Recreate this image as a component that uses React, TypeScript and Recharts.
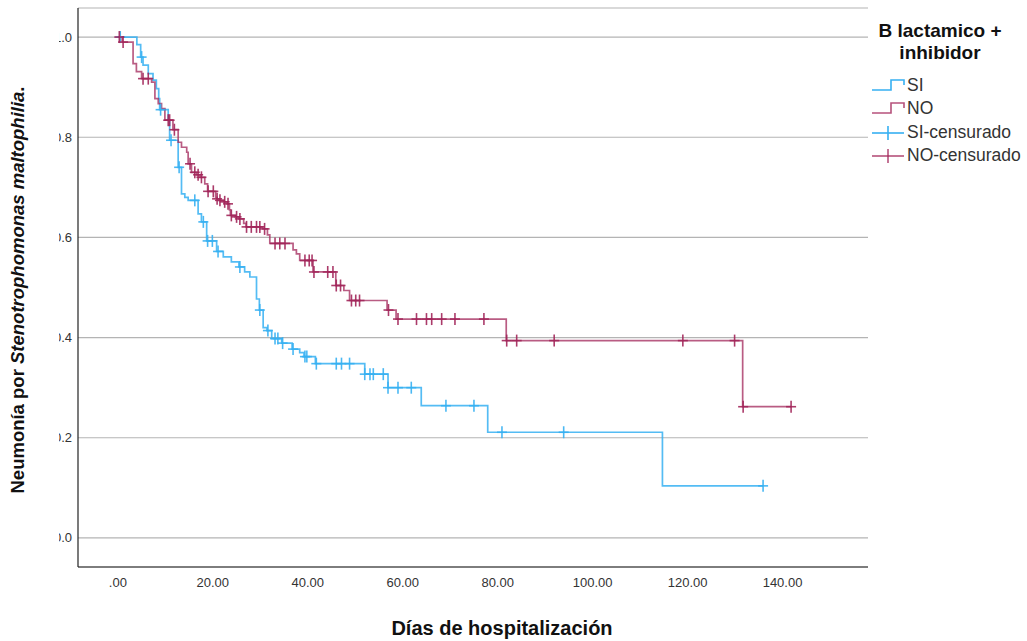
import React from 'react'
import {
  ComposedChart,
  Line,
  Scatter,
  XAxis,
  YAxis,
  CartesianGrid,
  Label,
} from 'recharts'

const ANCHO = 1027
const ALTO = 641

// Curva SI: tiempos de evento y supervivencia desde ese tiempo
const siTiempos = [
  0, 4.0, 4.8, 5.3, 6.4, 7.4, 8.1, 8.6, 8.8, 10.6, 10.9, 12.7, 13.4, 14.1, 14.8,
  16.9, 17.6, 18.7, 20.8, 22.2, 23.9, 25.5, 26.7, 27.8, 29.2, 29.8, 30.6, 31.4,
  32.4, 34.5, 36.7, 38.3, 39.2, 41.6, 52.0, 56.9, 63.9, 77.9, 114.7, 135.9,
]
const siSupervivencia = [
  1.0, 0.985, 0.96, 0.944, 0.927, 0.914, 0.897, 0.877, 0.855, 0.834, 0.794, 0.74,
  0.687, 0.68, 0.674, 0.647, 0.631, 0.593, 0.572, 0.561, 0.551, 0.541, 0.531,
  0.521, 0.477, 0.455, 0.42, 0.414, 0.398, 0.389, 0.377, 0.37, 0.362, 0.348,
  0.327, 0.3, 0.264, 0.211, 0.104, 0.104,
]
const siCensuraTiempos = [
  0.5, 5.0, 9.0, 11.2, 12.9, 16.2, 18.0, 18.9, 19.9, 21.1, 25.7, 29.9, 31.6, 33.1,
  33.7, 34.7, 36.9, 39.4, 39.8, 41.8, 46.0, 47.1, 48.8, 52.0, 53.1, 53.8, 55.9,
  56.9, 59.0, 61.8, 69.1, 75.0, 80.9, 93.9, 135.9,
]
const siCensuraSupervivencia = [
  1.0, 0.96, 0.855, 0.794, 0.74, 0.674, 0.631, 0.593, 0.593, 0.572, 0.541, 0.455,
  0.414, 0.398, 0.398, 0.389, 0.377, 0.362, 0.362, 0.348, 0.348, 0.348, 0.348,
  0.327, 0.327, 0.327, 0.327, 0.3, 0.3, 0.3, 0.264, 0.264, 0.211, 0.211, 0.104,
]

// Curva NO
const noTiempos = [
  0, 0.9, 3.2, 3.9, 5.0, 7.1, 7.8, 8.5, 9.2, 9.9, 11.6, 12.7, 13.4, 14.5, 14.8,
  15.5, 16.6, 17.3, 18.3, 18.9, 20.6, 20.9, 21.3, 22.3, 23.0, 23.5, 23.7, 24.7,
  25.5, 26.5, 27.0, 30.5, 31.5, 32.0, 36.9, 37.6, 38.3, 41.1, 45.9, 47.6, 48.8,
  56.7, 58.6, 81.8, 131.6, 141.8,
]
const noSupervivencia = [
  1.0, 0.99, 0.947, 0.931, 0.917, 0.91, 0.877, 0.867, 0.857, 0.834, 0.815, 0.79,
  0.78, 0.77, 0.747, 0.73, 0.725, 0.72, 0.707, 0.692, 0.68, 0.677, 0.674, 0.671,
  0.667, 0.655, 0.644, 0.641, 0.637, 0.628, 0.621, 0.617, 0.605, 0.588, 0.575,
  0.567, 0.554, 0.531, 0.504, 0.494, 0.474, 0.455, 0.437, 0.394, 0.262, 0.262,
]
const noCensuraTiempos = [
  0.3, 1.1, 5.3, 6.4, 10.6, 10.9, 11.9, 15.2, 16.2, 16.9, 17.6, 19.0, 20.1, 20.9,
  21.5, 22.5, 23.2, 23.9, 25.0, 25.7, 27.1, 28.1, 29.2, 29.9, 30.9, 33.1, 34.1,
  35.2, 39.4, 40.3, 40.9, 41.3, 44.2, 45.3, 46.0, 46.9, 49.2, 50.1, 50.9, 57.0,
  59.0, 62.9, 65.0, 66.1, 68.2, 71.0, 77.1, 81.9, 84.0, 91.9, 119.0, 129.9,
  131.7, 141.8,
]
const noCensuraSupervivencia = [
  1.0, 0.99, 0.917, 0.917, 0.834, 0.834, 0.815, 0.747, 0.73, 0.725, 0.72, 0.692,
  0.692, 0.677, 0.674, 0.671, 0.667, 0.644, 0.641, 0.637, 0.621, 0.621, 0.621,
  0.621, 0.617, 0.588, 0.588, 0.588, 0.554, 0.554, 0.554, 0.531, 0.531, 0.531,
  0.504, 0.504, 0.474, 0.474, 0.474, 0.455, 0.437, 0.437, 0.437, 0.437, 0.437,
  0.437, 0.437, 0.394, 0.394, 0.394, 0.394, 0.394, 0.262, 0.262,
]

const ticksX = [0, 20, 40, 60, 80, 100, 120, 140]
const etiquetasX = ['.00', '20.00', '40.00', '60.00', '80.00', '100.00', '120.00', '140.00']
const ticksY = [0, 0.2, 0.4, 0.6, 0.8, 1.0]
const etiquetasY = ['0.0', '0.2', '0.4', '0.6', '0.8', '1.0']

const COLOR_SI = '#36b0f2'
const COLOR_NO = '#a2265a'
const FUENTE = '"Liberation Sans", Arial, sans-serif'

const armar = (t: number[], s: number[]) => t.map((x, i) => ({ t: x, s: s[i] }))

const datosSi = armar(siTiempos, siSupervivencia)
const datosNo = armar(noTiempos, noSupervivencia)
const censuraSi = armar(siCensuraTiempos, siCensuraSupervivencia)
const censuraNo = armar(noCensuraTiempos, noCensuraSupervivencia)

function Cruz({ cx, cy, color }: any) {
  return (
    <g stroke={color} strokeWidth={1.6} strokeOpacity={0.9}>
      <line x1={cx - 5} x2={cx + 5} y1={cy} y2={cy} />
      <line x1={cx} x2={cx} y1={cy - 6} y2={cy + 6} />
    </g>
  )
}

// las etiquetas del eje Y quedan recortadas por la izquierda (x < 59)
const CORTE_Y = 59
function TickY({ y, payload }: any) {
  const i = ticksY.indexOf(payload.value)
  return (
    <svg x={CORTE_Y} y={y - 10} width={20} height={20} overflow="hidden">
      <text
        x={72 - CORTE_Y}
        y={10}
        textAnchor="end"
        dominantBaseline="central"
        fontSize={13}
        fontFamily={FUENTE}
        fill="#333"
      >
        {etiquetasY[i] ?? payload.value}
      </text>
    </svg>
  )
}

function TickX({ x, y, payload }: any) {
  const i = ticksX.indexOf(payload.value)
  return (
    <text
      x={x}
      y={y + 15}
      textAnchor="middle"
      dominantBaseline="central"
      fontSize={13}
      fontFamily={FUENTE}
      fill="#333"
    >
      {etiquetasX[i]}
    </text>
  )
}

function TituloY() {
  return (
    <text
      transform="translate(24, 290) rotate(-90)"
      textAnchor="middle"
      fontSize={18.5}
      fontWeight="bold"
      fontFamily={FUENTE}
      fill="#111"
    >
      Neumonía por <tspan fontStyle="italic">Stenotrophomonas maltophilia</tspan>.
    </text>
  )
}

function TituloX() {
  return (
    <text
      x={502}
      y={635}
      textAnchor="middle"
      fontSize={20}
      fontWeight="bold"
      fontFamily={FUENTE}
      fill="#111"
    >
      Días de hospitalización
    </text>
  )
}

function Leyenda() {
  const texto = { fontSize: 17.5, fontFamily: FUENTE, fill: '#333' }
  return (
    <svg
      width={ANCHO}
      height={ALTO}
      style={{ position: 'absolute', left: 0, top: 0, pointerEvents: 'none' }}
    >
      <text x={940} y={37} textAnchor="middle" fontSize={19} fontWeight="bold" fontFamily={FUENTE} fill="#111">
        B lactamico +
      </text>
      <text x={940} y={59} textAnchor="middle" fontSize={19} fontWeight="bold" fontFamily={FUENTE} fill="#111">
        inhibidor
      </text>
      <polyline
        points="872,90 891,90 891,80 904,80 904,85"
        fill="none"
        stroke={COLOR_SI}
        strokeWidth={1.6}
      />
      <text x={907} y={91} {...texto}>SI</text>
      <polyline
        points="872,113 891,113 891,103 904,103 904,108"
        fill="none"
        stroke={COLOR_NO}
        strokeWidth={1.6}
        strokeOpacity={0.8}
      />
      <text x={907} y={114} {...texto}>NO</text>
      <g stroke={COLOR_SI} strokeWidth={1.6}>
        <line x1={872} x2={904} y1={133} y2={133} />
        <line x1={888} x2={888} y1={126} y2={140} />
      </g>
      <text x={907} y={138} {...texto}>SI-censurado</text>
      <g stroke={COLOR_NO} strokeWidth={1.6} strokeOpacity={0.8}>
        <line x1={872} x2={904} y1={156} y2={156} />
        <line x1={888} x2={888} y1={149} y2={163} />
      </g>
      <text x={907} y={161} {...texto}>NO-censurado</text>
    </svg>
  )
}

export default function App() {
  return (
    <div style={{ position: 'absolute', left: 0, top: 0, width: ANCHO, height: ALTO, background: '#fff' }}>
      <ComposedChart
        width={ANCHO}
        height={ALTO}
        margin={{ top: 8, right: 159, bottom: 44, left: 0 }}
      >
        <CartesianGrid vertical={false} stroke="#b4b4b4" strokeWidth={1.2} />
        <XAxis
          type="number"
          dataKey="t"
          domain={[-8.4, 158]}
          ticks={ticksX}
          allowDataOverflow
          tickLine={false}
          tickSize={0}
          tickMargin={0}
          height={30}
          axisLine={{ stroke: '#222', strokeWidth: 1.2 }}
          tick={<TickX />}
        />
        <YAxis
          type="number"
          domain={[-0.058, 1.058]}
          ticks={ticksY}
          allowDataOverflow
          width={78}
          tickLine={false}
          tickSize={0}
          axisLine={{ stroke: '#222', strokeWidth: 1.2 }}
          tick={<TickY />}
        >
          <Label content={<TituloY />} />
        </YAxis>
        <Line
          data={datosSi}
          dataKey="s"
          type="stepAfter"
          stroke={COLOR_SI}
          strokeWidth={1.7}
          strokeOpacity={0.85}
          dot={false}
          activeDot={false}
          isAnimationActive={false}
        />
        <Line
          data={datosNo}
          dataKey="s"
          type="stepAfter"
          stroke={COLOR_NO}
          strokeWidth={1.7}
          strokeOpacity={0.75}
          dot={false}
          activeDot={false}
          isAnimationActive={false}
        />
        <Scatter
          data={censuraSi}
          dataKey="s"
          shape={(p: any) => <Cruz cx={p.cx} cy={p.cy} color={COLOR_SI} />}
          isAnimationActive={false}
        />
        <Scatter
          data={censuraNo}
          dataKey="s"
          shape={(p: any) => <Cruz cx={p.cx} cy={p.cy} color={COLOR_NO} />}
          isAnimationActive={false}
        />
        <TituloX />
      </ComposedChart>
      <Leyenda />
    </div>
  )
}
